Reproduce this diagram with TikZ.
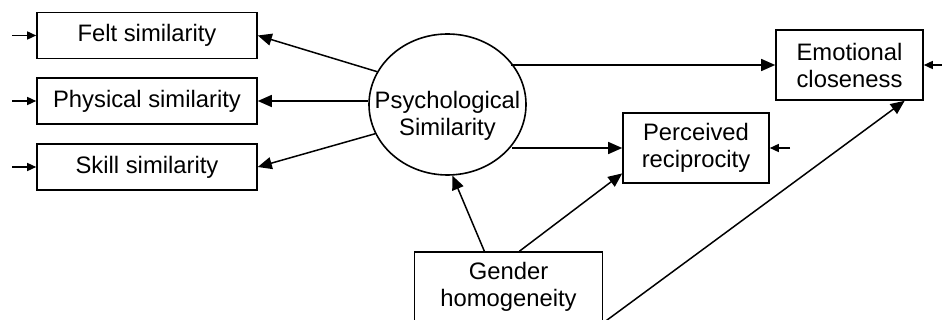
\documentclass[tikz,border=0pt]{standalone}
\usepackage{fontspec}
\setmainfont{Liberation Sans}
\usetikzlibrary{arrows.meta,shapes.geometric}

\begin{document}
\begin{tikzpicture}[x=0.5pt,y=-0.5pt,
    every node/.style={font=\fontsize{11.9}{13.5}\selectfont},
    box/.style={draw,line width=0.8pt,minimum height=35pt,align=center,inner sep=0pt},
    arr/.style={-{Triangle[length=7pt,width=6pt]},line width=0.75pt},
    small/.style={-{Triangle[length=4.5pt,width=4pt]},line width=0.75pt}]

    \useasboundingbox (0,0) rectangle (942,320);

    \node[box,minimum width=110pt,minimum height=23pt] (S1) at (147,35.5) {Felt similarity};
    \node[box,minimum width=110pt,minimum height=23pt] (S2) at (147,101) {Physical similarity};
    \node[box,minimum width=110pt,minimum height=23pt] (S3) at (147,167) {Skill similarity};
    \node[draw,ellipse,line width=0.8pt,minimum width=78.5pt,minimum height=70.5pt,inner sep=0pt] (P) at (447.5,104.5) {};
    \node[align=center,inner sep=0pt] (Pt) at (447.5,116) {Psychological\\Similarity};
    \node[box,minimum width=73.5pt] (E) at (849.5,65) {Emotional\\closeness};
    \node[box,minimum width=73pt] (R) at (696,148) {Perceived\\reciprocity};
    \node[box,minimum width=94pt,text depth=3pt] (G) at (508.5,287) {Gender\\homogeneity};

    \coordinate (i1) at (12,35.5);
    \coordinate (i2) at (12,101);
    \coordinate (i3) at (12,167);
    \coordinate (iE) at (942,65);
    \coordinate (iR) at (790,148);

    \draw[small] (i1) -- (S1.west);
    \draw[small] (i2) -- (S2.west);
    \draw[small] (i3) -- (S3.west);
    \draw[small] (iE) -- (E.east);
    \draw[small] (iR) -- (R.east);

    \draw[arr] (P.155) -- (S1.east);
    \draw[arr] (P.west |- S2.east) -- (S2.east);
    \draw[arr] (P.-158) -- (S3.east);
    \draw[arr] (P.34 |- E.west) -- (E.west);
    \draw[arr] (P.-33 |- R.west) -- (R.west);
    \draw[arr] (G.124) -- (P.-86);
    \draw[arr] (G.73) -- (R.-161);
    \draw[arr] (G.south east) -- (E.-33);
\end{tikzpicture}
\end{document}
